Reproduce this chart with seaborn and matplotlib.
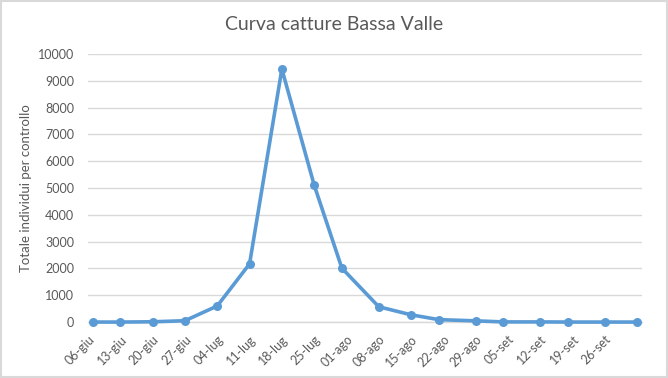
import numpy as np
import matplotlib.pyplot as plt
import pandas as pd
import seaborn as sns

# giorni dal 06-giu per ogni controllo, e catture
giorni = [1, 7, 14, 21, 28, 35, 42, 49, 55, 63, 70, 76, 84, 90, 98, 104, 112, 119]
catture = [0, 0, 10, 50, 600, 2170, 9440, 5110, 2010, 570, 270, 90, 45, 5, 5, 0, 0, 0]

etichette = ['06-giu', '13-giu', '20-giu', '27-giu', '04-lug', '11-lug', '18-lug',
             '25-lug', '01-ago', '08-ago', '15-ago', '22-ago', '29-ago', '05-set',
             '12-set', '19-set', '26-set']

df = pd.DataFrame({'giorno': giorni, 'catture': catture})

sns.set_style('white')
plt.rcParams['font.family'] = ['Lato', 'DejaVu Sans']
grigio = '#595959'
blu = '#5B9BD5'

fig = plt.figure(figsize=(6.68, 3.78), dpi=100)
ax = fig.add_axes([0.1317, 0.148, 0.8293, 0.709])

sns.lineplot(data=df, x='giorno', y='catture', ax=ax, color=blu, linewidth=2.6,
             marker='o', markersize=6.5, markeredgewidth=0, clip_on=False, zorder=3)

ax.set_xlim(0, 120)
ax.set_ylim(0, 10000)
ax.set_yticks(np.arange(0, 10001, 1000))
ax.set_xticks(np.arange(0, 7 * len(etichette), 7))
ax.set_xticklabels(etichette, rotation=45, ha='right', rotation_mode='anchor')

ax.grid(axis='y', color='#D9D9D9', linewidth=1)
ax.set_axisbelow(True)
for s in ['top', 'right', 'left']:
    ax.spines[s].set_visible(False)
ax.spines['bottom'].set_color('#D9D9D9')
ax.spines['bottom'].set_linewidth(1)

ax.tick_params(axis='x', colors='#D9D9D9', length=4, width=1, labelcolor=grigio,
               labelsize=9, pad=4)
ax.tick_params(axis='y', length=0, labelcolor=grigio, labelsize=9, pad=10)

ax.set_xlabel('')
ax.set_ylabel('Totale individui per controllo', color=grigio, fontsize=9.5, labelpad=4)
fig.text(0.5, 0.935, 'Curva catture Bassa Valle', ha='center', va='center',
         color=grigio, fontsize=14)

# bordo dell'area del grafico
fig.patches.append(plt.Rectangle((0.002, 0.003), 0.996, 0.994, transform=fig.transFigure,
                                 fill=False, edgecolor='#D9D9D9', linewidth=1.5))

fig.savefig('out.png', dpi=100)
